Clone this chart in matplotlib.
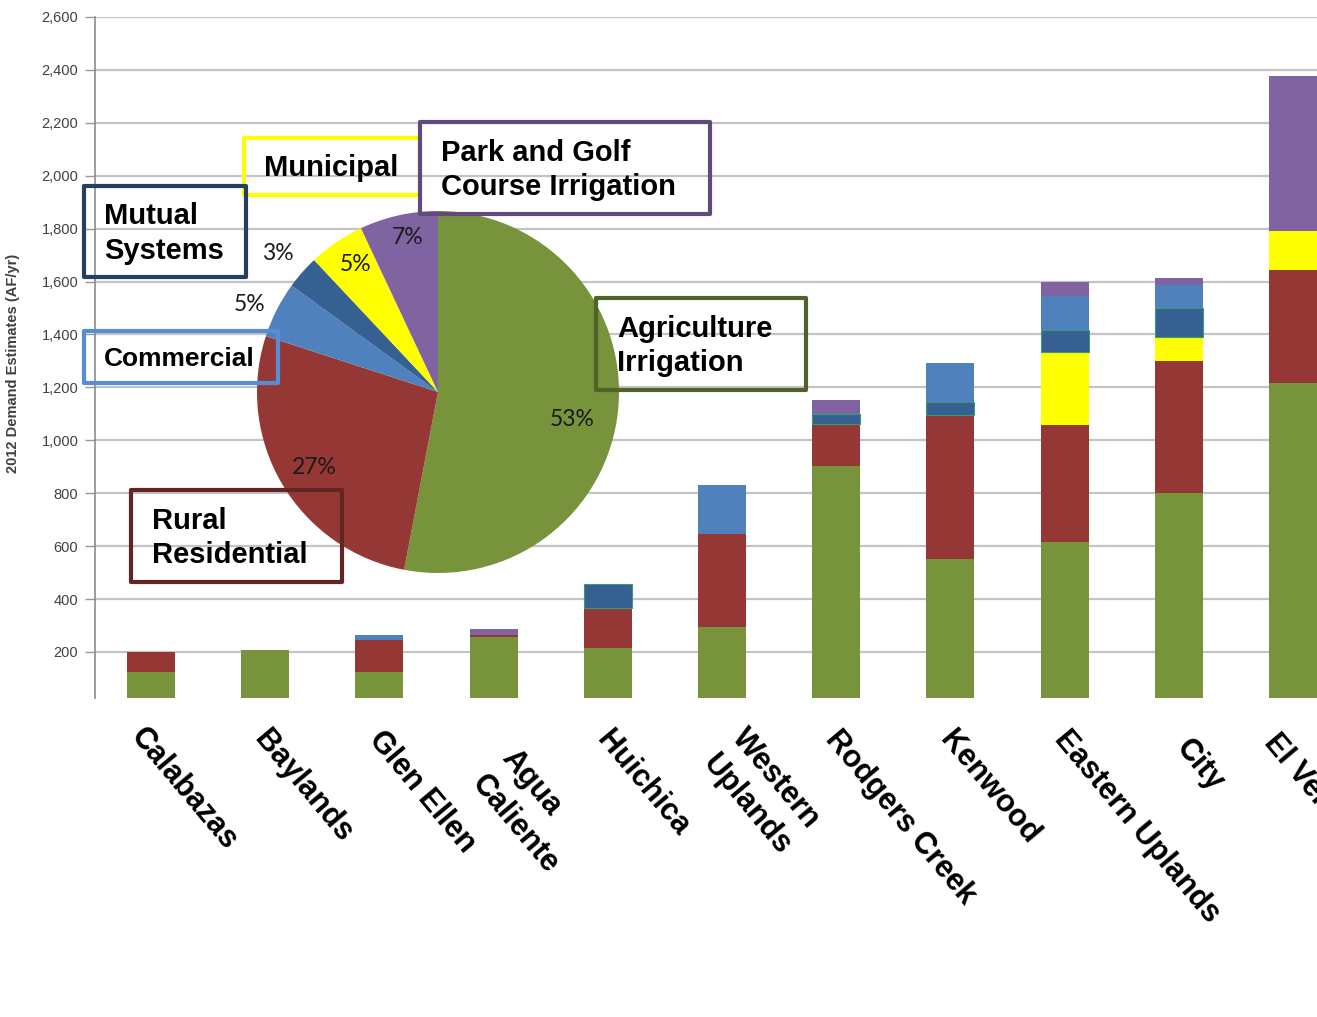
import matplotlib
matplotlib.use('Agg')
import matplotlib.pyplot as plt
import matplotlib.patches as patches
import numpy as np
from matplotlib.transforms import ScaledTranslation

# dados (AF/yr)
regioes = ['Calabazas', 'Baylands', 'Glen Ellen', 'Agua\nCaliente', 'Huichica',
           'Western\nUplands', 'Rodgers Creek', 'Kenwood', 'Eastern Uplands',
           'City', 'El Verano']
agricultura = [125, 208, 125, 257, 215, 295, 903, 552, 615, 802, 1216]
rural = [75, 0, 121, 8, 152, 351, 159, 544, 444, 499, 428]
municipal = [0, 0, 0, 0, 0, 0, 0, 0, 275, 88, 149]
mutual = [0, 0, 0, 0, 90, 0, 38, 49, 84, 110, 0]
comercial = [0, 0, 18, 0, 0, 185, 0, 147, 126, 88, 0]
parque = [0, 0, 0, 22, 0, 0, 53, 0, 55, 25, 583]

# pizza: participacao percentual
fatias = ['Agriculture', 'Rural', 'Commercial', 'Mutual', 'Municipal', 'Park']
percentuais = [53, 27, 5, 3, 5, 7]

cores = {'Agriculture': '#77933c', 'Rural': '#953735', 'Municipal': '#ffff00',
         'Mutual': '#366092', 'Commercial': '#4f81bd', 'Park': '#8064a2'}

W, H = 1317, 1017
fig = plt.figure(figsize=(W / 100, H / 100), dpi=100)
ax = fig.add_axes([95 / W, 1 - 698 / H, 1 - 95 / W, (698 - 17) / H])

x = np.arange(len(regioes))
larg = 0.42
base = np.zeros(len(regioes))
series = [(agricultura, 'Agriculture'), (rural, 'Rural'), (municipal, 'Municipal'),
          (mutual, 'Mutual'), (comercial, 'Commercial'), (parque, 'Park')]
for vals, nome in series:
    vals = np.array(vals, dtype=float)
    if nome == 'Mutual':
        ax.bar(x, vals, larg, bottom=base, color=cores[nome], edgecolor='#3a9a70',
               linewidth=np.where(vals > 0, 0.8, 0), zorder=3)
    else:
        ax.bar(x, vals, larg, bottom=base, color=cores[nome], linewidth=0, zorder=3)
    base += vals

ax.set_xlim(-0.49, 10.21)
ax.set_ylim(26, 2600)
ax.set_yticks(range(200, 2601, 200))
ax.set_yticklabels([f'{v:,}' for v in range(200, 2601, 200)],
                   fontsize=10.5, color='#404040', family='Liberation Sans')
ax.grid(axis='y', color='#c4c4c4', linewidth=1.6, zorder=0)
ax.tick_params(axis='y', length=7, width=1, color='#9a9a9a', pad=5)
for s in ['top', 'right', 'bottom']:
    ax.spines[s].set_visible(False)
ax.spines['left'].set_color('#8c8c8c')
ax.spines['left'].set_linewidth(1.2)

ax.set_xticks(x)
ax.set_xticklabels(regioes, rotation=-50, ha='left', va='top',
                   rotation_mode='anchor', fontsize=22, fontweight='bold',
                   family='Liberation Sans', linespacing=1.42)
ax.tick_params(axis='x', length=0, pad=0)
# deslocamento (px) do canto do rotulo em relacao ao centro da barra
ajuste = {'Calabazas': (-4, 24), 'Agua\nCaliente': (25, 46),
          'Western\nUplands': (27, 25), 'City': (14, 36), 'El Verano': (-12, 30)}
for lbl, nome in zip(ax.get_xticklabels(), regioes):
    dx, dy = ajuste.get(nome, (6, 27))
    lbl.set_transform(lbl.get_transform() +
                      ScaledTranslation(dx / 100, -dy / 100, fig.dpi_scale_trans))

ax.set_ylabel('2012 Demand Estimates (AF/yr)', fontsize=10.5, color='#404040',
              family='Liberation Sans', fontweight='bold')
ax.yaxis.set_label_coords((20 - 95) / (W - 95), (698 - 363) / 681)

# pizza sobreposta
cx, cy, r = 438, 392, 181
axp = fig.add_axes([(cx - r) / W, 1 - (cy + r) / H, 2 * r / W, 2 * r / H])
cunhas, _ = axp.pie(percentuais, colors=[cores[f] for f in fatias], startangle=90,
                    counterclock=False, radius=1, wedgeprops={'linewidth': 0})
axp.set_xlim(-1, 1)
axp.set_ylim(-1, 1)
axp.axis('off')
# posicao dos rotulos: (distancia relativa ao raio, angulo em graus)
pos_rotulos = [(0.76, -11.7), (0.8, -148.6), (1.15, 155), (1.17, 139), (0.84, 123), (0.87, 101)]
for p, (d, a) in zip(percentuais, pos_rotulos):
    ang = np.deg2rad(a)
    axp.text(d * np.cos(ang), d * np.sin(ang), f'{p}%', ha='center', va='center',
             fontsize=16.5, family='Lato', color='#1a1a1a')

# caixas de legenda
def caixa(x0, y0, x1, y1, cor, texto, tx, tam=21):
    ret = patches.Rectangle((x0 / W, 1 - y1 / H), (x1 - x0) / W, (y1 - y0) / H,
                            transform=fig.transFigure, fill=False, edgecolor=cor,
                            linewidth=3, joinstyle='round', zorder=5)
    fig.patches.append(ret)
    fig.text(tx / W, 1 - ((y0 + y1) / 2 + 2) / H, texto, ha='left', va='center',
             fontsize=tam, fontweight='bold', family='Liberation Sans',
             linespacing=1.3, zorder=6)

caixa(244, 138, 420, 195, '#ffff00', 'Municipal', 264)
caixa(420, 122, 710, 214, '#604a7b', 'Park and Golf\nCourse Irrigation', 441)
caixa(84, 186, 246, 277, '#243f60', 'Mutual\nSystems', 104)
caixa(84, 331, 278, 383, '#558ed5', 'Commercial', 104, tam=19)
caixa(596, 298, 806, 390, '#4f6228', 'Agriculture\nIrrigation', 617)
caixa(131, 490, 342, 582, '#632523', 'Rural\nResidential', 152)

fig.savefig('out.png', dpi=100)
